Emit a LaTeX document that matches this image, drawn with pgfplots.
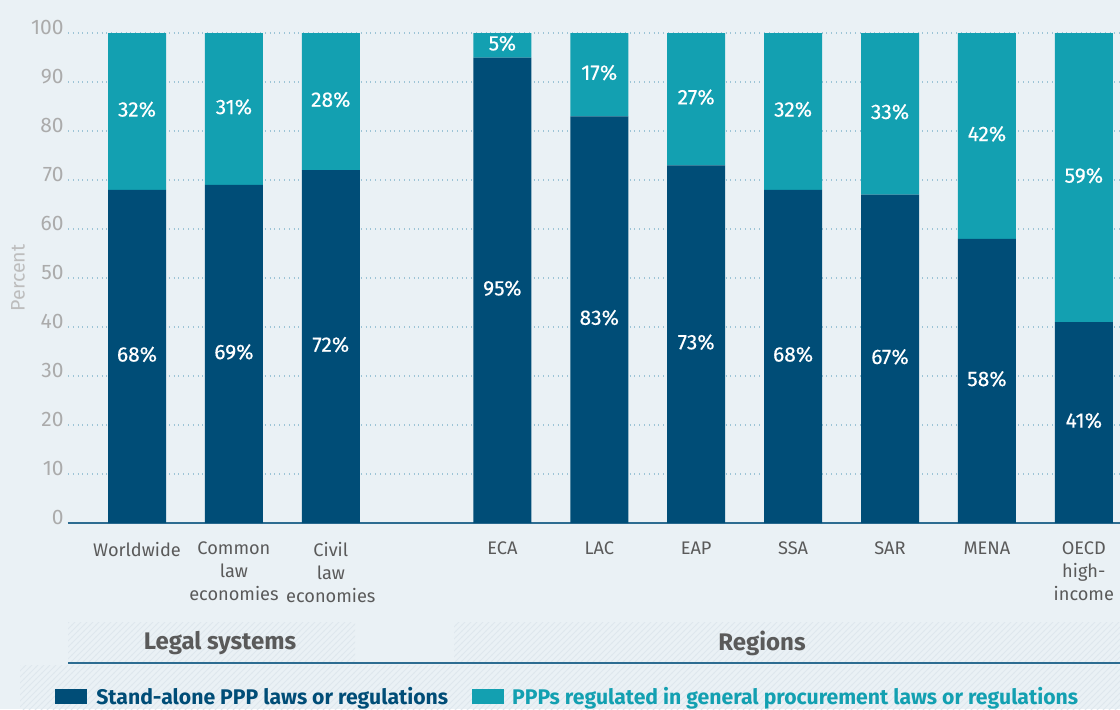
\documentclass[border=0pt]{standalone}
\usepackage{fontspec}
\setmainfont{Fira Sans}
\newfontfamily\labfont{Fira Sans}[FakeBold=0.3]
\usepackage{pgfplots}
\pgfplotsset{compat=1.18}
\usetikzlibrary{patterns}
\definecolor{bg}{HTML}{EAF1F5}
\definecolor{darkbar}{HTML}{004D77}
\definecolor{tealbar}{HTML}{13A0B1}
\definecolor{gridc}{HTML}{9DC4D6}
\definecolor{ticklab}{HTML}{ABABAB}
\definecolor{ylab}{HTML}{BDBDBD}
\definecolor{xlab}{HTML}{5A5A5A}
\definecolor{rulec}{HTML}{2D6C91}
\definecolor{hatchc}{HTML}{DEE7ED}
\begin{document}
\begin{tikzpicture}
\useasboundingbox (0,0) rectangle (560pt,354.5pt);
\fill[bg] (0,0) rectangle (560pt,354.5pt);
% hatched bands under the group titles and the legend
\fill[pattern=north east lines, pattern color=hatchc] (34pt,23.5pt) rectangle (177.5pt,43.5pt);
\fill[pattern=north east lines, pattern color=hatchc] (227pt,23.5pt) rectangle (560pt,43.5pt);
\fill[pattern=north east lines, pattern color=hatchc] (10pt,0pt) rectangle (560pt,22pt);
\draw[rulec, line width=1pt] (34pt,23pt) -- (560pt,23pt);
\node[font=\fontsize{12}{14}\selectfont\bfseries, text=xlab] at (110pt,33pt) {Legal systems};
\node[font=\fontsize{12}{14}\selectfont\bfseries, text=xlab] at (381pt,33pt) {Regions};
\begin{axis}[
  at={(34pt,93pt)}, anchor=south west,
  scale only axis, width=526pt, height=245pt,
  xmin=-0.712, xmax=10.143, ymin=0, ymax=100,
  ybar stacked, bar width=29pt,
  axis x line*=bottom, axis y line*=left,
  y axis line style={draw=none},
  x axis line style={rulec, line width=0.7pt},
  ytick={0,10,...,100},
  major tick length=0pt,
  ymajorgrids, grid style={gridc, dotted, line width=0.6pt},
  xtick={0,1,2,3.77,4.77,5.77,6.77,7.77,8.77,9.77},
  xticklabels={Worldwide,{Common\\law\\economies},{Civil\\law\\economies},ECA,LAC,EAP,SSA,SAR,MENA,{OECD\\high-\\income}},
  /pgf/number format/assume math mode=true,
  yticklabel style={font=\fontsize{10.5}{11}\selectfont, text=ticklab, anchor=base east, inner sep=0pt, xshift=-2pt, yshift=-0.5pt},
  xticklabel style={font=\fontsize{9.1}{11.5}\selectfont, text=xlab, align=center, anchor=north, yshift=-6pt},
  ylabel={Percent},
  every axis y label/.style={at={(axis description cs:-0.0475,0.5)}, rotate=90, anchor=center, font=\fontsize{9.8}{11}\selectfont, text=ylab},
  visualization depends on=rawy \as \rawy,
  nodes near coords={\pgfmathprintnumber{\rawy}\%},
  nodes near coords style={anchor=center, text=white, font=\labfont\fontsize{10.5}{12}\selectfont, yshift=1pt},
  legend style={at={(axis description cs:-0.0124,-0.355)}, anchor=west, draw=none, fill=none, inner sep=0pt,
    font=\fontsize{10.6}{12}\selectfont\bfseries, legend columns=2,
    /tikz/every even column/.append style={column sep=10pt}},
  legend cell align=left,
  clip=false,
]
\addplot[fill=darkbar, draw=none, legend image code/.code={\fill[darkbar] (0pt,-3.75pt) rectangle (16pt,3.75pt); \path (18.5pt,0pt);}]
  coordinates {(0,68) (1,69) (2,72) (3.77,95) (4.77,83) (5.77,73) (6.77,68) (7.77,67) (8.77,58) (9.77,41)};
\addlegendentry{\textcolor{darkbar}{Stand-alone PPP laws or regulations}}
\addplot[fill=tealbar, draw=none, legend image code/.code={\fill[tealbar] (0pt,-3.75pt) rectangle (16pt,3.75pt); \path (18pt,0pt);}]
  coordinates {(0,32) (1,31) (2,28) (3.77,5) (4.77,17) (5.77,27) (6.77,32) (7.77,33) (8.77,42) (9.77,59)};
\addlegendentry{\textcolor{tealbar}{PPPs regulated in general procurement laws or regulations}}
\end{axis}
\end{tikzpicture}
\end{document}
